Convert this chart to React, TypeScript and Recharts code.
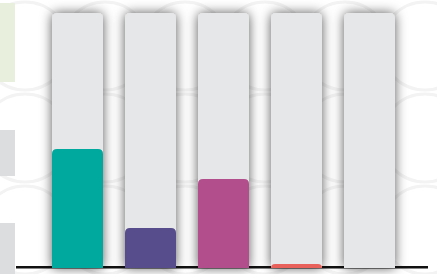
import { BarChart, Bar, XAxis, YAxis } from "recharts";

const categories = ["A", "B", "C", "D", "E"];
const values = [46.7, 15.7, 34.9, 1.6, 0];
const colors = ["#00a99d", "#574c8c", "#b34e8c", "#e8615b", "#e6e7e9"];

const data = categories.map((c, i) => ({ name: c, value: values[i], color: colors[i] }));

export default function App() {
  return (
    <div style={{ position: "fixed", left: 0, top: 0, width: 437, height: 274, background: "#fff", overflow: "hidden" }}>
      <svg width={437} height={274} style={{ position: "absolute", left: 0, top: 0 }}>
        <defs>
          <pattern id="rings" width="80" height="92" patternUnits="userSpaceOnUse" x="-15" y="0">
            <circle cx="40" cy="46" r="44" fill="none" stroke="#f3f3f3" strokeWidth="3" />
          </pattern>
        </defs>
        <rect x={0} y={0} width={437} height={274} fill="url(#rings)" />
        <rect x={0} y={3} width={15} height={79} fill="#e8f0dd" />
        <rect x={0} y={130} width={15} height={46} fill="#dcdddf" />
        <rect x={0} y={223} width={15} height={51} fill="#dcdddf" />
        <rect x={16} y={266} width={412} height={2.5} fill="#111" />
      </svg>
      <div style={{ position: "absolute", left: 0, top: 0 }}>
        <BarChart width={437} height={274} data={data} margin={{ top: 13, right: 31, bottom: 6, left: 41 }} barSize={51}>
          <defs>
            <filter id="shadow" x="-50%" y="-20%" width="200%" height="140%">
              <feDropShadow dx="0" dy="0" stdDeviation="6" floodColor="#000" floodOpacity="0.65" />
            </filter>
          </defs>
          <XAxis dataKey="name" hide />
          <YAxis hide domain={[0, 100]} />
          <Bar
            dataKey="value"
            isAnimationActive={false}
            radius={[5, 5, 0, 0]}
            background={{ fill: "#e6e7e9", radius: [5, 5, 0, 0], filter: "url(#shadow)" } as any}
            shape={(p: any) => {
              const { x, y, width, height, payload } = p;
              if (!height || height <= 0) return <g />;
              const r = Math.min(5, height, width / 2);
              const d = `M${x},${y + height} L${x},${y + r} Q${x},${y} ${x + r},${y} L${x + width - r},${y} Q${x + width},${y} ${x + width},${y + r} L${x + width},${y + height} Z`;
              return <path d={d} fill={payload.color} />;
            }}
          />
        </BarChart>
      </div>
    </div>
  );
}
